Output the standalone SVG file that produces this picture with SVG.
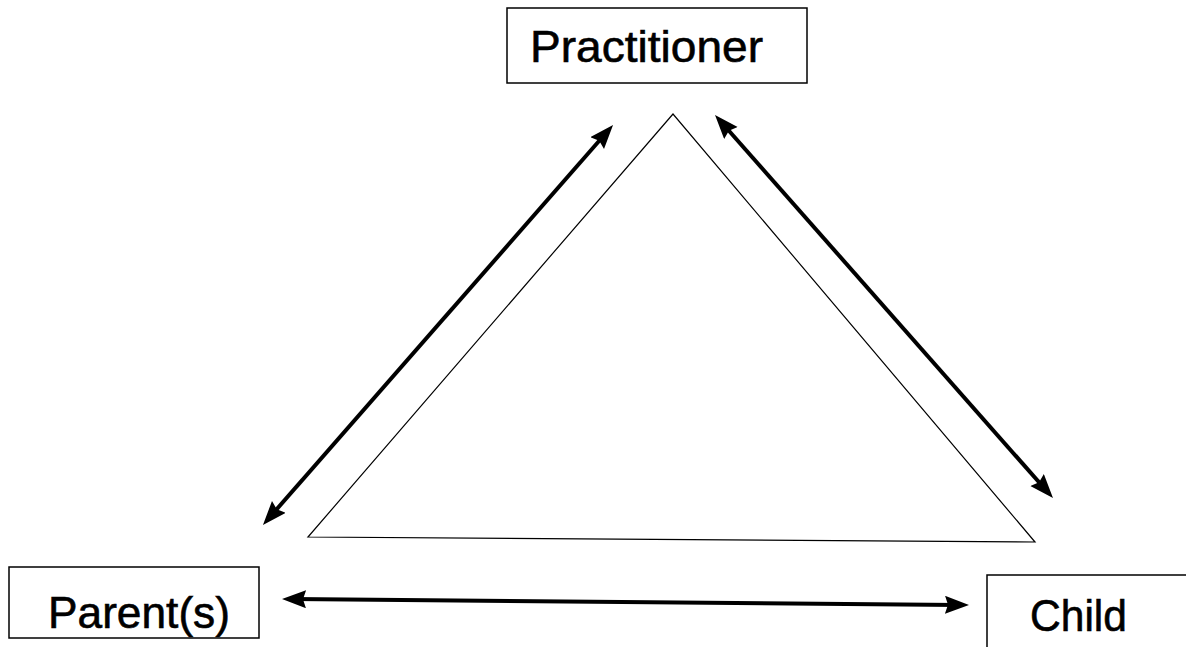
<svg xmlns="http://www.w3.org/2000/svg" width="1186" height="647" viewBox="0 0 1186 647">
  <style>
    .box { fill: none; stroke: #000; stroke-width: 1.5; }
    .lbl { font-family: "Liberation Sans", Arial, sans-serif; font-size: 44px; fill: #000; stroke: #000; stroke-width: 0.6; }
    .conn { stroke: #000; stroke-width: 4; fill: none; }
    .tri { fill: none; stroke: #000; stroke-width: 1.2; }
  </style>
  <defs>
    <marker id="ah" markerUnits="userSpaceOnUse" markerWidth="26" markerHeight="20" refX="13" refY="9" orient="auto-start-reverse" viewBox="0 0 26 20">
      <path d="M0,0 L24,9 L0,18 L3,9 Z" fill="#000"/>
    </marker>
  </defs>
  <rect width="1186" height="647" fill="#fff"/>
  <g id="triangle">
    <polygon class="tri" points="673,114 308,537 1035,542"/>
  </g>
  <g id="practitioner">
    <rect class="box" x="507" y="8" width="300" height="75"/>
    <text class="lbl" x="530" y="62" textLength="233" lengthAdjust="spacingAndGlyphs">Practitioner</text>
  </g>
  <g id="parents">
    <rect class="box" x="9" y="567" width="250" height="71"/>
    <text class="lbl" x="48" y="628" textLength="182" lengthAdjust="spacingAndGlyphs">Parent(s)</text>
  </g>
  <g id="child">
    <path class="box" d="M987,647 V575 H1186"/>
    <text class="lbl" x="1030" y="631" textLength="97" lengthAdjust="spacingAndGlyphs">Child</text>
  </g>
  <g id="connectors">
    <line class="conn" x1="270.2" y1="516.7" x2="605.8" y2="133.3" marker-start="url(#ah)" marker-end="url(#ah)"/>
    <line class="conn" x1="722.3" y1="123.2" x2="1045.7" y2="489.8" marker-start="url(#ah)" marker-end="url(#ah)"/>
    <line class="conn" x1="293" y1="599.1" x2="958" y2="604.9" marker-start="url(#ah)" marker-end="url(#ah)"/>
  </g>
</svg>
